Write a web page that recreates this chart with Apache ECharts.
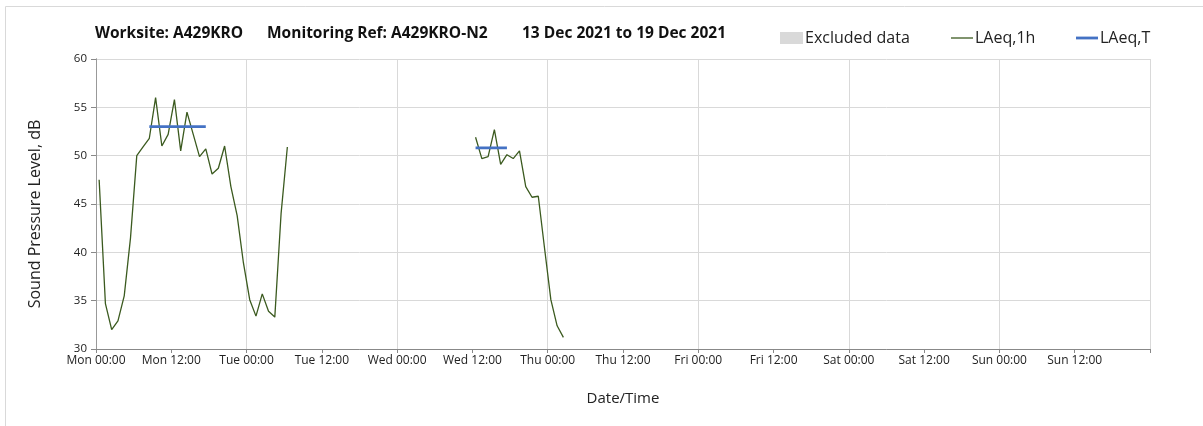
<!DOCTYPE html>
<html>
<head>
<meta charset="utf-8">
<title>Worksite A429KRO - N2</title>
<script src="https://cdn.jsdelivr.net/npm/echarts@6/dist/echarts.min.js"></script>
<style>
  html, body { margin: 0; padding: 0; background: #fff; }
  #chart { width: 1203px; height: 426px; }
</style>
</head>
<body>
<div id="chart"></div>
<script>
// hours are counted from Mon 13 Dec 2021 00:00, each hourly value sits mid-hour
const dayNames = ['Mon', 'Tue', 'Wed', 'Thu', 'Fri', 'Sat', 'Sun', 'Mon']

const seg1Start = 0.5
const seg1Values = [47.5, 34.7, 32.0, 32.9, 35.5, 41.5, 50.0, 50.9, 51.8, 56.0,
    51.0, 52.2, 55.8, 50.5, 54.5, 52.2, 49.9, 50.7, 48.1, 48.7,
    51.0, 46.8, 43.8, 38.9, 35.1, 33.4, 35.7, 33.9, 33.3, 44.0, 50.9]

const seg2Start = 60.5
const seg2Values = [51.9, 49.7, 49.9, 52.7, 49.1, 50.1, 49.7, 50.5, 46.8, 45.7,
    45.8, 40.4, 35.1, 32.4, 31.2]

// LAeq,T periods
const periodStart = [8.5, 60.5]
const periodEnd = [17.5, 65.5]
const periodLevel = [53.0, 50.8]

const yTicks = [30, 35, 40, 45, 50, 55, 60]

const titleParts = ['Worksite: A429KRO', 'Monitoring Ref: A429KRO-N2', '13 Dec 2021 to 19 Dec 2021']

const green = '#3b5a1f'
const blue = '#4472c4'
const font = "'Open Sans', sans-serif"

const toPairs = (start, values) => values.map((v, i) => [start + i, v])

const hourLabel = h => {
    const day = dayNames[Math.floor(h / 24)]
    return `${day} ${h % 24 === 0 ? '00:00' : '12:00'}`
}

const series = [
    {
        name: 'Excluded data', type: 'bar', data: [],
        itemStyle: { color: '#d9d9d9' }
    },
    {
        name: 'LAeq,1h', type: 'line', data: toPairs(seg1Start, seg1Values),
        showSymbol: false, lineStyle: { color: green, width: 1.3 }, itemStyle: { color: green }
    },
    {
        name: 'LAeq,1h', type: 'line', data: toPairs(seg2Start, seg2Values),
        showSymbol: false, lineStyle: { color: green, width: 1.3 }, itemStyle: { color: green }
    }
]
periodLevel.forEach((lvl, i) => {
    series.push({
        name: 'LAeq,T', type: 'line', z: 3,
        data: [[periodStart[i], lvl], [periodEnd[i], lvl]],
        showSymbol: false, lineStyle: { color: blue, width: 2.8 }, itemStyle: { color: blue }
    })
})

const legendBase = {
    top: 30, itemGap: 0, padding: 0, selectedMode: false,
    textStyle: { fontFamily: font, fontSize: 16, color: '#222', padding: [0, 0, 0, -3] }
}
const titleLeft = [95, 267, 522]

var myChart = echarts.init(document.getElementById('chart'))
var option = {
    animation: false,
    textStyle: { fontFamily: font },
    title: titleParts.map((t, i) => ({
        text: t, left: titleLeft[i], top: 26, padding: 0,
        textStyle: { fontFamily: font, fontSize: 15.5, fontWeight: 'bold', color: '#111' }
    })),
    legend: [
        Object.assign({}, legendBase, {
            left: 780, data: [{ name: 'Excluded data', icon: 'rect' }],
            itemWidth: 23, itemHeight: 12
        }),
        Object.assign({}, legendBase, {
            left: 951, data: [{ name: 'LAeq,1h', icon: 'rect' }],
            itemWidth: 22, itemHeight: 1.3
        }),
        Object.assign({}, legendBase, {
            left: 1076, data: [{ name: 'LAeq,T', icon: 'rect' }],
            itemWidth: 22, itemHeight: 2.8
        })
    ],
    grid: { left: 96, right: 53, top: 59, bottom: 77 },
    xAxis: [
        {
            type: 'value', min: 0, max: 168, interval: 12,
            name: 'Date/Time', nameLocation: 'middle', nameGap: 42,
            nameTextStyle: { fontFamily: font, fontSize: 15, color: '#222' },
            axisLine: { lineStyle: { color: '#888' } },
            axisTick: { length: 4, lineStyle: { color: '#888' } },
            axisLabel: {
                color: '#222', fontSize: 12, fontFamily: font, margin: 6,
                formatter: v => v < 168 ? hourLabel(v) : ''
            },
            splitLine: { show: false }
        },
        {
            type: 'value', min: 0, max: 168, interval: 24, position: 'bottom',
            axisLine: { show: false }, axisTick: { show: false }, axisLabel: { show: false },
            splitLine: { show: true, lineStyle: { color: '#d9d9d9' } }
        }
    ],
    yAxis: [
        {
            type: 'value', min: yTicks[0], max: yTicks[yTicks.length - 1], interval: 5,
            name: 'Sound Pressure Level, dB', nameLocation: 'middle', nameGap: 53,
            nameTextStyle: { fontFamily: font, fontSize: 16, color: '#222', padding: [0, 20, 0, 0] },
            axisLine: { show: true, lineStyle: { color: '#888' } },
            axisTick: { show: true, length: 5, lineStyle: { color: '#888' } },
            axisLabel: { color: '#222', fontSize: 11.5, fontFamily: font, margin: 9 },
            splitLine: { show: true, lineStyle: { color: '#d9d9d9' } }
        },
        {
            type: 'value', min: yTicks[0], max: yTicks[yTicks.length - 1], position: 'right',
            axisLine: { show: true, lineStyle: { color: '#999' } },
            axisTick: { show: false }, axisLabel: { show: false }, splitLine: { show: false }
        }
    ],
    graphic: [{
        type: 'rect', silent: true, z: -1,
        shape: { x: 5.5, y: 6.5, width: 1240, height: 440 },
        style: { fill: 'none', stroke: '#d9d9d9', lineWidth: 1 }
    }],
    series: series
}
myChart.setOption(option)
</script>
</body>
</html>
